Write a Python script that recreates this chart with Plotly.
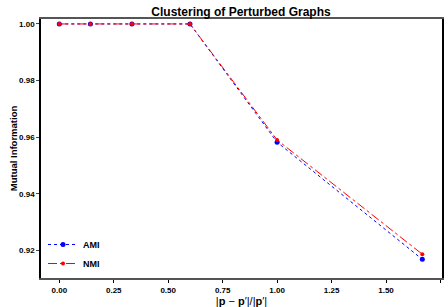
import plotly.graph_objects as go

x_vals = [0.0, 1/7, 1/3, 0.6, 1.0, 5/3]
ami = [1.0, 1.0, 1.0, 1.0, 0.9582, 0.9168]
nmi = [1.0, 1.0, 1.0, 1.0, 0.9590, 0.9186]
x_ticks = [0.0, 0.25, 0.5, 0.75, 1.0, 1.25, 1.5, 1.75]
y_ticks = [0.92, 0.94, 0.96, 0.98, 1.00]

FAM = "Liberation Sans"

fig = go.Figure()
fig.add_trace(go.Scatter(x=x_vals, y=ami, name="AMI", mode="lines+markers",
                         line=dict(color="blue", width=1, dash="dot"),
                         marker=dict(color="blue", size=5, symbol="circle")))
fig.add_trace(go.Scatter(x=x_vals, y=nmi, name="NMI", mode="lines+markers",
                         line=dict(color="red", width=1, dash="dashdot"),
                         marker=dict(color="red", size=4, symbol="circle")))

fig.update_layout(
    width=448, height=307,
    margin=dict(l=41, r=4, t=19, b=27),
    plot_bgcolor="white", paper_bgcolor="white",
    font=dict(family=FAM, size=8, color="black", weight="bold"),
    title=dict(text="Clustering of Perturbed Graphs", x=0.538, xanchor="center",
               y=0.962, yanchor="middle",
               font=dict(family=FAM, size=12, color="black", weight="bold")),
    showlegend=True,
    legend=dict(x=0.005, y=0.0, xanchor="left", yanchor="bottom",
                bgcolor="rgba(0,0,0,0)", itemwidth=30, tracegroupgap=0,
                font=dict(size=9, family=FAM, weight="bold")),
    xaxis=dict(range=[-0.084, 1.757], tickvals=x_ticks,
               ticktext=[f"{v:.2f}" for v in x_ticks],
               showgrid=False, zeroline=False, showline=True, linecolor="#555",
               linewidth=2, mirror=True, ticks="outside", ticklen=3, tickwidth=1,
               tickcolor="black", ticklabelstandoff=0,
               title=dict(text="|<b>p</b> − <b>p</b>′|/|<b>p</b>′|", standoff=1,
                          font=dict(size=11, family=FAM, weight="normal"))),
    yaxis=dict(range=[0.9102, 1.00175], tickvals=y_ticks,
               ticktext=[f"{v:.2f}" for v in y_ticks],
               showgrid=False, zeroline=False, showline=True, linecolor="black",
               linewidth=1.5, mirror=True, ticks="outside", ticklen=3, tickwidth=1,
               title=dict(text="Mutual Information", standoff=0,
                          font=dict(size=9.5, family=FAM, weight="bold"))),
)
fig.write_html("out.html", config={"displayModeBar": False},
               post_script="document.body.style.margin='0';document.body.style.padding='0';")
